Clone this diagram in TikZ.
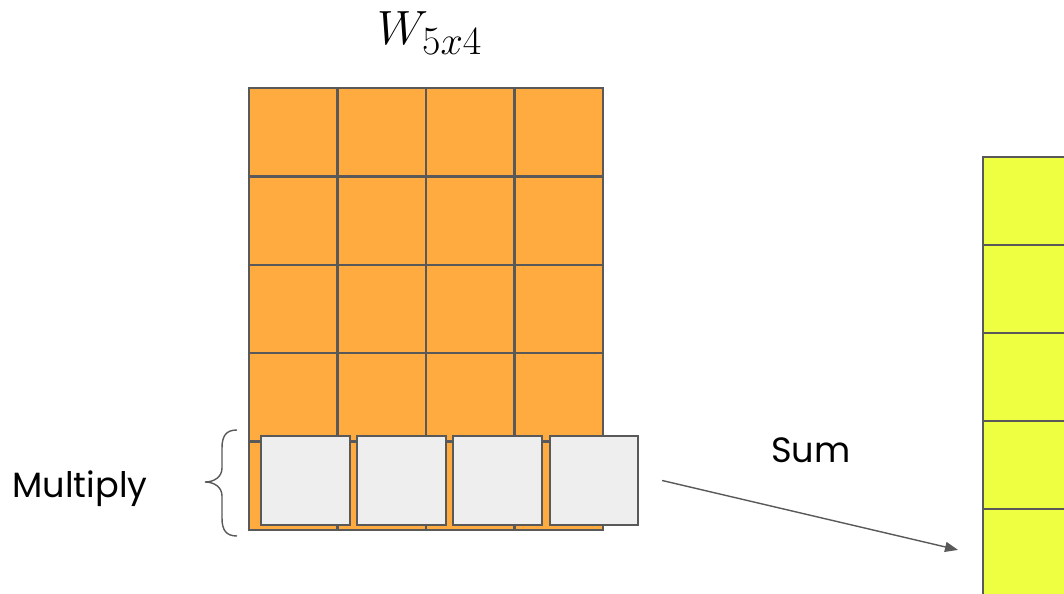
\documentclass[tikz,border=0pt]{standalone}
\usepackage{fontspec}
\newfontfamily\labelfont{Poppins}
\usetikzlibrary{arrows.meta,positioning}
\definecolor{cellorange}{HTML}{FFAB40}
\definecolor{cellgray}{HTML}{EEEEEE}
\definecolor{cellyellow}{HTML}{EEFF41}
\definecolor{edgegray}{HTML}{595959}

\begin{document}
\begin{tikzpicture}[x=0.02cm,y=-0.02cm,line width=1.3pt,>={Triangle[length=0.26cm,width=0.2cm]},
  wcell/.style={fill=cellorange,draw=edgegray},
  vcell/.style={draw=edgegray,fill=cellgray,inner sep=0pt,outer sep=0pt,minimum width=1.77cm,minimum height=1.78cm},
  ycell/.style={draw=edgegray,fill=cellyellow,inner sep=0pt,outer sep=0pt,minimum width=3.4cm,minimum height=1.76cm},
  lbl/.style={font=\labelfont\fontsize{20}{22}\selectfont}]
\useasboundingbox (0,0) rectangle (1064,594);
\clip (0,0) rectangle (1064,594);
\def\cw{88.5}
\def\ch{88.4}
\foreach \r in {0,...,4}
  \foreach \c in {0,...,3}
    \draw[wcell] (249+\c*\cw,88+\r*\ch) rectangle ++(\cw,\ch);
\node[anchor=base,scale=1.1] (wlabel) at (430,45) {\Huge $W_{5x4}$};

\node[vcell] (v1) at (305.5,480.5) {};
\node[vcell,right=0.15cm of v1] (v2) {};
\node[vcell,right=0.15cm of v2] (v3) {};
\node[vcell,right=0.16cm of v3] (v4) {};

\node[ycell,anchor=north west] (y1) at (983,157) {};
\foreach \i [count=\j from 2] in {1,...,4}
  \node[ycell,below=0pt of y\i] (y\j) {};

\draw[edgegray,line width=0.8pt] (237,430) .. controls (226,430) and (222,436) .. (222,448) -- (222,468)
  .. controls (222,477) and (214,482) .. (205,482) .. controls (214,482) and (222,487) .. (222,496)
  -- (222,518) .. controls (222,530) and (226,536) .. (237,536);
\node[lbl,anchor=base] (mult) at (80,497) {Multiply};
\node[lbl,anchor=base] (sum) at (811,462) {Sum};
\draw[->,edgegray,line width=0.8pt] ([xshift=0.48cm]v4.east) -- ([xshift=-0.5cm,yshift=0.06cm]y5.west);
\end{tikzpicture}
\end{document}
